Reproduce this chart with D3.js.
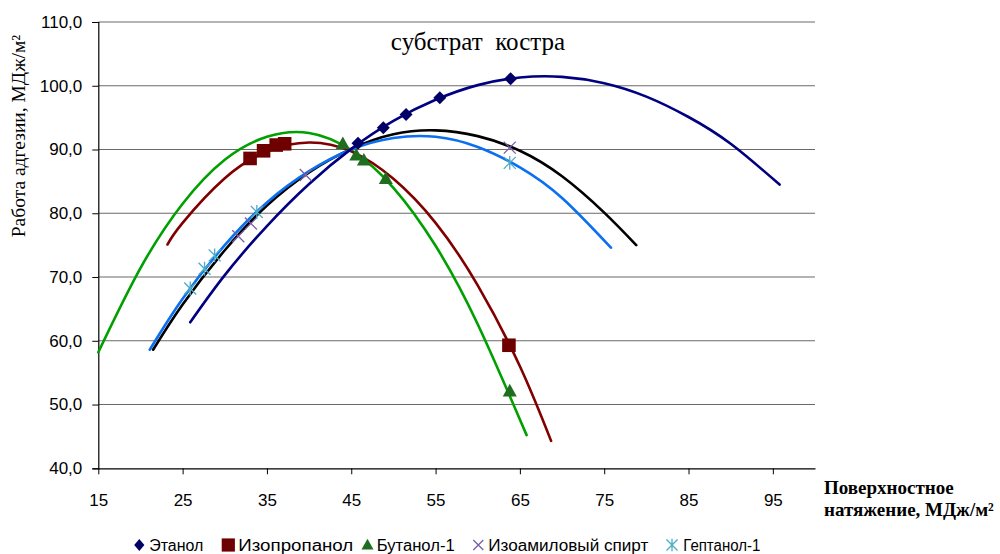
<!DOCTYPE html>
<html>
<head>
<meta charset="utf-8">
<script src="https://cdn.jsdelivr.net/npm/d3@7/dist/d3.min.js"></script>
<style>
  html, body { margin: 0; padding: 0; background: #fff; }
  svg { display: block; }
</style>
</head>
<body>
<svg id="chart" width="1000" height="554"></svg>
<script>
// Series names (legend order)
const seriesNames = ["Этанол", "Изопропанол", "Бутанол-1", "Изоамиловый спирт", "Гептанол-1"];

// Measured points: surface tension (x) vs adhesion work (y)
const ethanolX  = [45.8, 48.8, 51.5, 55.5, 63.9];
const ethanolY  = [91.0, 93.4, 95.5, 98.1, 101.1];
const isoproX   = [33.0, 34.6, 36.1, 37.1, 63.7];
const isoproY   = [88.6, 89.8, 90.7, 90.9, 59.3];
const butanolX  = [44.0, 45.6, 46.5, 49.1, 63.8];
const butanolY  = [90.9, 89.1, 88.3, 85.4, 52.1];
const isoamylX  = [31.6, 33.1, 39.6, 63.8];
const isoamylY  = [76.4, 78.4, 86.0, 90.3];
const heptanolX = [25.9, 27.6, 28.8, 33.8, 63.8];
const heptanolY = [68.2, 71.3, 73.4, 80.2, 87.9];

// Polynomial trend lines, sampled along x
const ethanolTrendX  = [25.9, 30, 35, 40, 45, 50, 55, 60, 65, 70, 75, 80, 85, 90, 95.8];
const ethanolTrendY  = [62.9, 70.3, 78.0, 84.6, 90.1, 94.5, 97.8, 100.1, 101.3, 101.4, 100.4, 98.3, 95.1, 90.9, 84.5];
const isoproTrendX   = [23.2, 25, 30, 35, 40, 45, 50, 55, 60, 65, 68.7];
const isoproTrendY   = [75.1, 78.5, 85.5, 89.7, 91.1, 89.7, 85.4, 78.5, 68.7, 56.0, 44.3];
const butanolTrendX  = [15, 20, 25, 30, 35, 40, 45, 50, 55, 60, 65.8];
const butanolTrendY  = [58.2, 71.4, 81.5, 88.4, 92.0, 92.6, 89.9, 84.0, 74.9, 62.6, 45.2];
const isoamylTrendX  = [21.5, 25, 30, 35, 40, 45, 50, 55, 60, 65, 70, 75, 78.8];
const isoamylTrendY  = [58.6, 65.7, 74.2, 81.2, 86.4, 90.1, 92.4, 93.0, 92.1, 89.8, 85.8, 80.1, 75.0];
const heptanolTrendX = [21.1, 25, 30, 35, 40, 45, 50, 55, 60, 65, 70, 75.8];
const heptanolTrendY = [58.6, 66.6, 75.0, 81.7, 86.6, 90.0, 91.8, 92.0, 90.4, 87.2, 82.4, 74.6];

// Axis ticks
const xTickValues = [15, 25, 35, 45, 55, 65, 75, 85, 95];
const yTickValues = [40, 50, 60, 70, 80, 90, 100, 110];

const titleText = "субстрат  костра";
const yAxisTitle = "Работа адгезии, МДж/м²";
const xAxisTitle = ["Поверхностное", "натяжение, МДж/м²"];

// ---------------------------------------------------------------
const svg = d3.select("#chart");
const sansFont = "'Liberation Sans', Arial, sans-serif";
const serifFont = "'Liberation Serif', 'Times New Roman', serif";

const x = d3.scaleLinear().domain([15, 100]).range([98.3, 815]);
const y = d3.scaleLinear().domain([40, 110]).range([468.3, 22]);

const zip = (xs, ys) => xs.map((v, i) => [v, ys[i]]);

// marker path generators (centred on 0,0)
const markerPath = {
  diamond: (r, k = 1) => `M0,${-r}L${r * k},0L0,${r}L${-r * k},0Z`,
  square: r => `M${-r},${-r}H${r}V${r}H${-r}Z`,
  triangle: r => `M0,${-r * 1.05}L${r},${r * 0.75}L${-r},${r * 0.75}Z`,
  x: r => `M${-r},${-r}L${r},${r}M${-r},${r}L${r},${-r}`,
  asterisk: r => `M${-r},${-r}L${r},${r}M${-r},${r}L${r},${-r}M0,${-r * 1.15}L0,${r * 1.15}`
};

const series = [
  { name: seriesNames[0], pts: zip(ethanolX, ethanolY), trend: zip(ethanolTrendX, ethanolTrendY),
    line: "#000080", marker: "diamond", fill: "#000066", r: 6.5, stroke: null },
  { name: seriesNames[1], pts: zip(isoproX, isoproY), trend: zip(isoproTrendX, isoproTrendY),
    line: "#800000", marker: "square", fill: "#6e0000", r: 6.8, stroke: null },
  { name: seriesNames[2], pts: zip(butanolX, butanolY), trend: zip(butanolTrendX, butanolTrendY),
    line: "#00a000", marker: "triangle", fill: "#1f6e1f", r: 7, stroke: null },
  { name: seriesNames[3], pts: zip(isoamylX, isoamylY), trend: zip(isoamylTrendX, isoamylTrendY),
    line: "#000000", marker: "x", fill: "none", r: 6, stroke: "#7a5ea6" },
  { name: seriesNames[4], pts: zip(heptanolX, heptanolY), trend: zip(heptanolTrendX, heptanolTrendY),
    line: "#0a6ff0", marker: "asterisk", fill: "none", r: 6, stroke: "#4bacc6" }
];

// horizontal grid lines
svg.append("g")
  .selectAll("line")
  .data(yTickValues.filter(v => v > 40))
  .join("line")
  .attr("x1", x(15)).attr("x2", x(100))
  .attr("y1", d => y(d)).attr("y2", d => y(d))
  .attr("stroke", "#6a6a6a").attr("stroke-width", 1.1);

// y axis
const fmt = v => d3.format(".1f")(v).replace(".", ",");
const yAxis = svg.append("g")
  .attr("transform", `translate(${x(15)},0)`)
  .call(d3.axisLeft(y).tickValues(yTickValues).tickSize(6).tickPadding(10).tickFormat(fmt));
yAxis.select(".domain").attr("stroke", "#000").attr("stroke-width", 1.2);
yAxis.selectAll(".tick line").attr("stroke", "#000");
yAxis.selectAll(".tick text")
  .attr("font-family", sansFont).attr("font-size", 17).attr("fill", "#000");

// x axis
const xAxis = svg.append("g")
  .attr("transform", `translate(0,${y(40)})`)
  .call(d3.axisBottom(x).tickValues(xTickValues).tickSize(6).tickPadding(20).tickSizeOuter(0));
xAxis.select(".domain").attr("stroke", "#000").attr("stroke-width", 1.2);
xAxis.selectAll(".tick line").attr("stroke", "#000");
xAxis.selectAll(".tick text")
  .attr("font-family", sansFont).attr("font-size", 17).attr("fill", "#000");

// trend lines
const lineGen = d3.line().x(d => x(d[0])).y(d => y(d[1])).curve(d3.curveNatural);
const drawOrder = [2, 1, 3, 4, 0];
svg.append("g")
  .selectAll("path")
  .data(drawOrder.map(i => series[i]))
  .join("path")
  .attr("d", d => lineGen(d.trend))
  .attr("fill", "none")
  .attr("stroke", d => d.line)
  .attr("stroke-width", 2.6)
  .attr("stroke-linecap", "round");

// markers
series.forEach(s => {
  svg.append("g")
    .selectAll("path")
    .data(s.pts)
    .join("path")
    .attr("transform", d => `translate(${x(d[0])},${y(d[1])})`)
    .attr("d", markerPath[s.marker](s.r))
    .attr("fill", s.fill)
    .attr("stroke", s.stroke || "none")
    .attr("stroke-width", s.stroke ? 1.3 : 0);
});

// title
svg.append("text")
  .attr("x", 478).attr("y", 50)
  .attr("text-anchor", "middle")
  .attr("font-family", serifFont).attr("font-size", 25)
  .attr("fill", "#000")
  .style("white-space", "pre")
  .text(titleText);

// y axis title
svg.append("text")
  .attr("transform", "translate(25,136) rotate(-90)")
  .attr("text-anchor", "middle")
  .attr("font-family", serifFont).attr("font-size", 19.5)
  .attr("fill", "#000")
  .text(yAxisTitle);

// x axis title (two lines, bold)
svg.append("text")
  .attr("font-family", serifFont).attr("font-size", 19).attr("font-weight", "bold")
  .attr("fill", "#000")
  .selectAll("tspan")
  .data(xAxisTitle)
  .join("tspan")
  .attr("x", 824)
  .attr("y", (d, i) => 494 + i * 22)
  .text(d => d);

// legend
const legendX = [139.3, 228.3, 367.5, 478.3, 672];
const legendTextX = [149.3, 238.3, 376.7, 488.3, 683.3];
const legendTextW = [54, 115, 78, 160, 77];
const legendSize = [[6, 0.85], [6.6], [6], [5], [5.5]];
const legend = svg.append("g").attr("transform", "translate(0,545)");
series.forEach((s, i) => {
  legend.append("path")
    .attr("transform", `translate(${legendX[i]},0)`)
    .attr("d", markerPath[s.marker](...legendSize[i]))
    .attr("fill", s.fill)
    .attr("stroke", s.stroke || "none")
    .attr("stroke-width", s.stroke ? 1.3 : 0);
  legend.append("text")
    .attr("x", legendTextX[i]).attr("y", 5.6)
    .attr("font-family", sansFont).attr("font-size", 16)
    .attr("fill", "#000")
    .attr("textLength", legendTextW[i])
    .attr("lengthAdjust", "spacingAndGlyphs")
    .text(s.name);
});
</script>
</body>
</html>
